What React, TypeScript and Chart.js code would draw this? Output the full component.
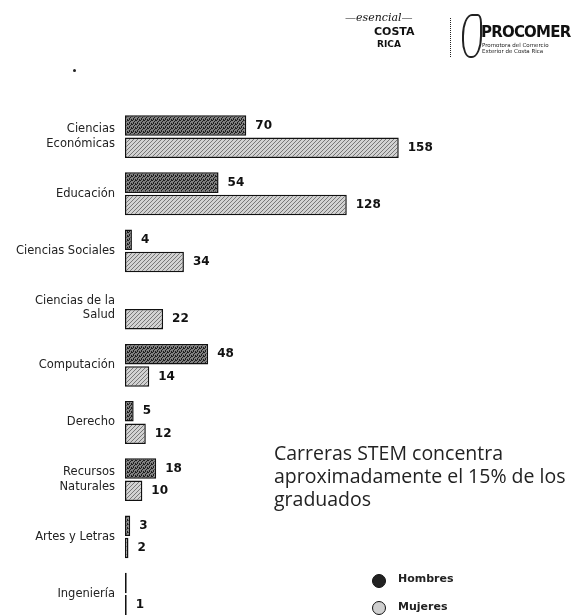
import { useEffect, useRef } from "react";
import { Chart, registerables } from "chart.js";

Chart.register(...registerables);

const categories: (string | string[])[] = [
  ["Ciencias", "Económicas"],
  "Educación",
  "Ciencias Sociales",
  ["Ciencias de la", "Salud"],
  "Computación",
  "Derecho",
  ["Recursos", "Naturales"],
  "Artes y Letras",
  "Ingeniería",
];
const menValues = [70, 54, 4, null, 48, 5, 18, 3, 1];
const womenValues = [158, 128, 34, 22, 14, 12, 10, 2, 1];
const menLabels = ["70", "54", "4", "", "48", "5", "18", "3", ""];
const womenLabels = ["158", "128", "34", "22", "14", "12", "10", "2", "1"];
const seriesNames = ["Hombres", "Mujeres"];
const xMax = 258;

function makePattern(base: string, dot: string, mask: number[][]) {
  const c = document.createElement("canvas");
  c.width = 4;
  c.height = 4;
  const g = c.getContext("2d")!;
  g.fillStyle = base;
  g.fillRect(0, 0, 4, 4);
  g.fillStyle = dot;
  mask.forEach(([x, y]) => g.fillRect(x, y, 1, 1));
  return g.createPattern(c, "repeat")!;
}

export default function App() {
  const ref = useRef<HTMLCanvasElement>(null);

  useEffect(() => {
    const menFill = makePattern("#808080", "#1e1e1e", [
      [0, 0], [2, 1], [1, 2], [3, 3], [3, 0], [1, 3],
    ]);
    const womenFill = makePattern("#d2d2d2", "#777777", [
      [0, 0], [2, 2], [3, 1], [1, 3],
    ]);

    const labelPlugin = {
      id: "valueLabels",
      afterDatasetsDraw(chart: any) {
        const ctx = chart.ctx;
        ctx.save();
        ctx.font = "bold 12px 'DejaVu Sans'";
        ctx.fillStyle = "#111";
        ctx.textBaseline = "middle";
        ctx.textAlign = "left";
        [menLabels, womenLabels].forEach((labels, di) => {
          const meta = chart.getDatasetMeta(di);
          meta.data.forEach((el: any, i: number) => {
            if (!labels[i]) return;
            const { x, y } = el.getProps(["x", "y"], true);
            if (!isFinite(x) || !isFinite(y)) return;
            ctx.fillText(labels[i], x + 9, y);
          });
        });
        ctx.restore();
      },
    };

    const chart = new Chart(ref.current!, {
      type: "bar",
      data: {
        labels: categories,
        datasets: [
          {
            label: seriesNames[0],
            data: menValues,
            backgroundColor: menFill,
            borderColor: "#111",
            borderWidth: 1.5,
            borderSkipped: false,
            categoryPercentage: 0.78,
            barPercentage: 0.92,
          },
          {
            label: seriesNames[1],
            data: womenValues,
            backgroundColor: womenFill,
            borderColor: "#111",
            borderWidth: 1.5,
            borderSkipped: false,
            categoryPercentage: 0.78,
            barPercentage: 0.92,
          },
        ],
      },
      options: {
        indexAxis: "y",
        animation: false,
        responsive: false,
        layout: { padding: { top: 108, bottom: 3, left: 0, right: 5 } },
        plugins: {
          legend: { display: false },
          tooltip: { enabled: false },
        },
        scales: {
          x: {
            display: false,
            min: 0,
            max: xMax,
            grid: { display: false },
          },
          y: {
            grid: { display: false },
            border: { display: false },
            afterFit: (s: any) => {
              s.width = 125;
            },
            ticks: {
              padding: 2,
              color: "#222",
              font: { family: "'DejaVu Sans'", size: 11.5, lineHeight: 1.25 },
            },
          },
        },
      },
      plugins: [labelPlugin],
    });
    return () => chart.destroy();
  }, []);

  return (
    <div
      style={{
        position: "fixed",
        left: 0,
        top: 0,
        width: 577,
        height: 639,
        background: "#fff",
        fontFamily: "'Open Sans', sans-serif",
      }}
    >
      <canvas ref={ref} width={577} height={639} style={{ position: "absolute", left: 0, top: 0 }} />
      {/* logo */}
      <div style={{ position: "absolute", left: 345, top: 11, fontStyle: "italic", fontSize: 11, fontFamily: "'DejaVu Serif', serif", color: "#111" }}>
        —esencial—
      </div>
      <div style={{ position: "absolute", left: 374, top: 26, fontWeight: 800, fontSize: 11, lineHeight: "12px", color: "#111", fontFamily: "'DejaVu Sans'" }}>
        COSTA
        <br />
        <span style={{ fontSize: 9, marginLeft: 3 }}>RICA</span>
      </div>
      <div style={{ position: "absolute", left: 450, top: 18, width: 0, height: 39, borderLeft: "1.5px dotted #222" }} />
      <div style={{ position: "absolute", left: 462, top: 14, width: 16, height: 40, border: "2px solid #222", borderRadius: "50% 20% 50% 40%" }} />
      <div style={{ position: "absolute", left: 481, top: 23, fontWeight: 800, fontSize: 15, color: "#111", fontFamily: "'DejaVu Sans'", letterSpacing: -0.8 }}>
        PROCOMER
      </div>
      <div style={{ position: "absolute", left: 482, top: 42, fontSize: 5.5, lineHeight: "6px", color: "#222", fontFamily: "'DejaVu Sans'" }}>
        Promotora del Comercio
        <br />
        Exterior de Costa Rica
      </div>
      <div style={{ position: "absolute", left: 73, top: 69, width: 3, height: 3, borderRadius: 2, background: "#222" }} />
      {/* title */}
      <div style={{ position: "absolute", left: 274, top: 441, fontSize: 19.5, lineHeight: "23px", color: "#222", fontFamily: "'Open Sans'" }}>
        Carreras STEM concentra
        <br />
        aproximadamente el 15% de los
        <br />
        graduados
      </div>
      {/* legend */}
      <div style={{ position: "absolute", left: 372, top: 574, width: 12, height: 12, borderRadius: 7, background: "#222", border: "1px solid #111" }} />
      <div style={{ position: "absolute", left: 398, top: 572, fontSize: 11, fontWeight: 600, color: "#222", fontFamily: "'DejaVu Sans'" }}>
        {seriesNames[0]}
      </div>
      <div style={{ position: "absolute", left: 372, top: 601, width: 12, height: 12, borderRadius: 7, background: "#cfcfcf", border: "1.5px solid #111" }} />
      <div style={{ position: "absolute", left: 398, top: 600, fontSize: 11, fontWeight: 600, color: "#222", fontFamily: "'DejaVu Sans'" }}>
        {seriesNames[1]}
      </div>
    </div>
  );
}
